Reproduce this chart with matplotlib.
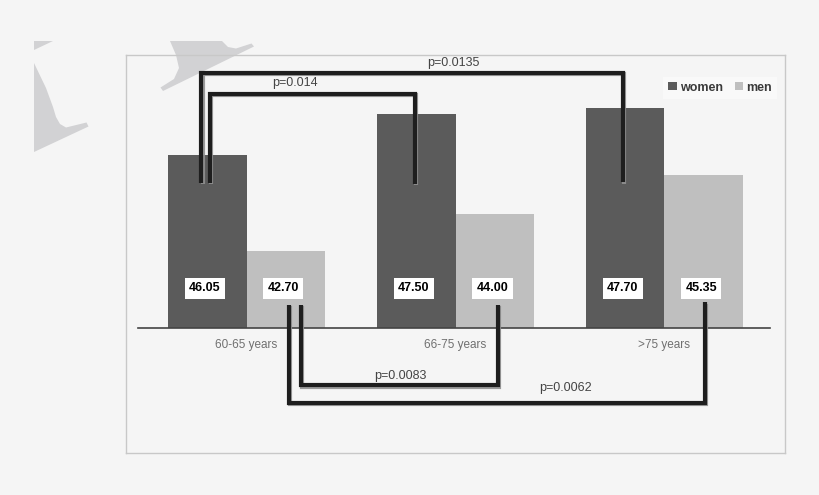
import numpy as np
import matplotlib
matplotlib.use('Agg')
import matplotlib.pyplot as plt
import matplotlib.patheffects as pe
from matplotlib.patches import Polygon

groups = ['60-65 years', '66-75 years', '>75 years']
women = [46.05, 47.50, 47.70]
men = [42.70, 44.00, 45.35]
p_labels = ['p=0.0135', 'p=0.014', 'p=0.0083', 'p=0.0062']

font = ['Liberation Sans', 'DejaVu Sans']
plt.rcParams['font.family'] = font

fig = plt.figure(figsize=(8.2, 4.95), dpi=100, facecolor='#f5f5f5')

# faint watermark fragments in the corner (pixel coords)
bg = fig.add_axes([0, 0, 1, 1], zorder=0)
bg.set_xlim(0, 820)
bg.set_ylim(495, 0)
bg.axis('off')
wm = '#d2d2d4'
bg.add_patch(Polygon([(34, 41), (53, 41), (34, 50)], color=wm, lw=0))
bg.add_patch(Polygon([(34, 63), (46, 88), (53, 107), (56, 117), (60, 124), (66, 127.5),
                      (86.5, 122.5), (88.5, 126.5), (34, 152)], color=wm, lw=0))
bg.add_patch(Polygon([(170, 41), (222, 41), (228, 47), (236, 48.5), (251.5, 43.5),
                      (254, 46.5), (163, 91), (160.5, 87.5), (174, 79), (179, 68),
                      (176, 55)], color=wm, lw=0))

ax = fig.add_axes([126 / 820, 1 - 453 / 495, 659 / 820, 398 / 495], zorder=1)
ax.patch.set_alpha(0)

base = 40
w = 0.375
x = np.arange(len(groups))
xw = x - w / 2
xm = x + w / 2
ax.bar(xw, np.array(women) - base, w, bottom=base, color='#5b5b5b', label='women', zorder=2)
ax.bar(xm, np.array(men) - base, w, bottom=base, color='#bfbfbf', label='men', zorder=2)

ax.set_xlim(-0.577, 2.577)
ax.set_ylim(35.6, 49.56)
ax.set_xticks([])
ax.set_yticks([])
for s in ax.spines.values():
    s.set_color('#c8c8c8')
    s.set_linewidth(1)

ax.plot([-0.52, 2.505], [base, base], color='#444444', lw=1.2, zorder=3)

for i, g in enumerate(groups):
    ax.text(x[i], base - 0.61, g, ha='center', va='center', fontsize=8.5,
            color='#707070')

# value boxes
for xs, vals in ((xw, women), (xm, men)):
    for xi, v in zip(xs, vals):
        ax.text(xi - 0.012, base + 1.37, '%.2f' % v, ha='center', va='center',
                fontsize=9, fontweight='bold', color='black', zorder=5,
                bbox=dict(boxstyle='square,pad=0.36', fc='white', ec='none'))

line_fx = [pe.SimpleLineShadow(offset=(1, -1), shadow_color='#909090', alpha=0.9),
           pe.Normal()]


def bracket(x0, x1, y0, y1, ybar, label, lx, ly):
    ax.plot([x0, x0, x1, x1], [y0, ybar, ybar, y1], color='#1e1e1e', lw=3,
            solid_joinstyle='miter', solid_capstyle='butt', path_effects=line_fx,
            clip_on=False, zorder=4)
    ax.text(lx, ly, label, ha='center', va='center', fontsize=9, color='#444444',
            zorder=6)


# women comparisons (above)
bracket(xw[0] - 0.03, xw[2] - 0.012, 45.07, 45.1, 48.94, p_labels[0], 0.988, 49.28)
bracket(xw[0] + 0.013, xw[1] - 0.006, 45.07, 45.05, 48.19, p_labels[1], 0.232, 48.58)
# men comparisons (below)
bracket(xm[0] + 0.072, xm[1] + 0.014, 40.79, 40.79, 37.98, p_labels[2], 0.734, 38.3)
bracket(xm[0] + 0.016, xm[2] + 0.006, 40.79, 40.88, 37.35, p_labels[3], 1.524, 37.88)

leg = ax.legend(loc='upper right', bbox_to_anchor=(0.988, 0.9455), ncol=2,
                frameon=True, facecolor='#f9f9f9', edgecolor='none', framealpha=1,
                fancybox=False, prop={'weight': 'bold', 'size': 9},
                handlelength=0.65, handleheight=0.65, handletextpad=0.3,
                columnspacing=0.9, borderaxespad=0, labelcolor='#3a3a3a')

fig.savefig('out.png', dpi=100, facecolor=fig.get_facecolor())
